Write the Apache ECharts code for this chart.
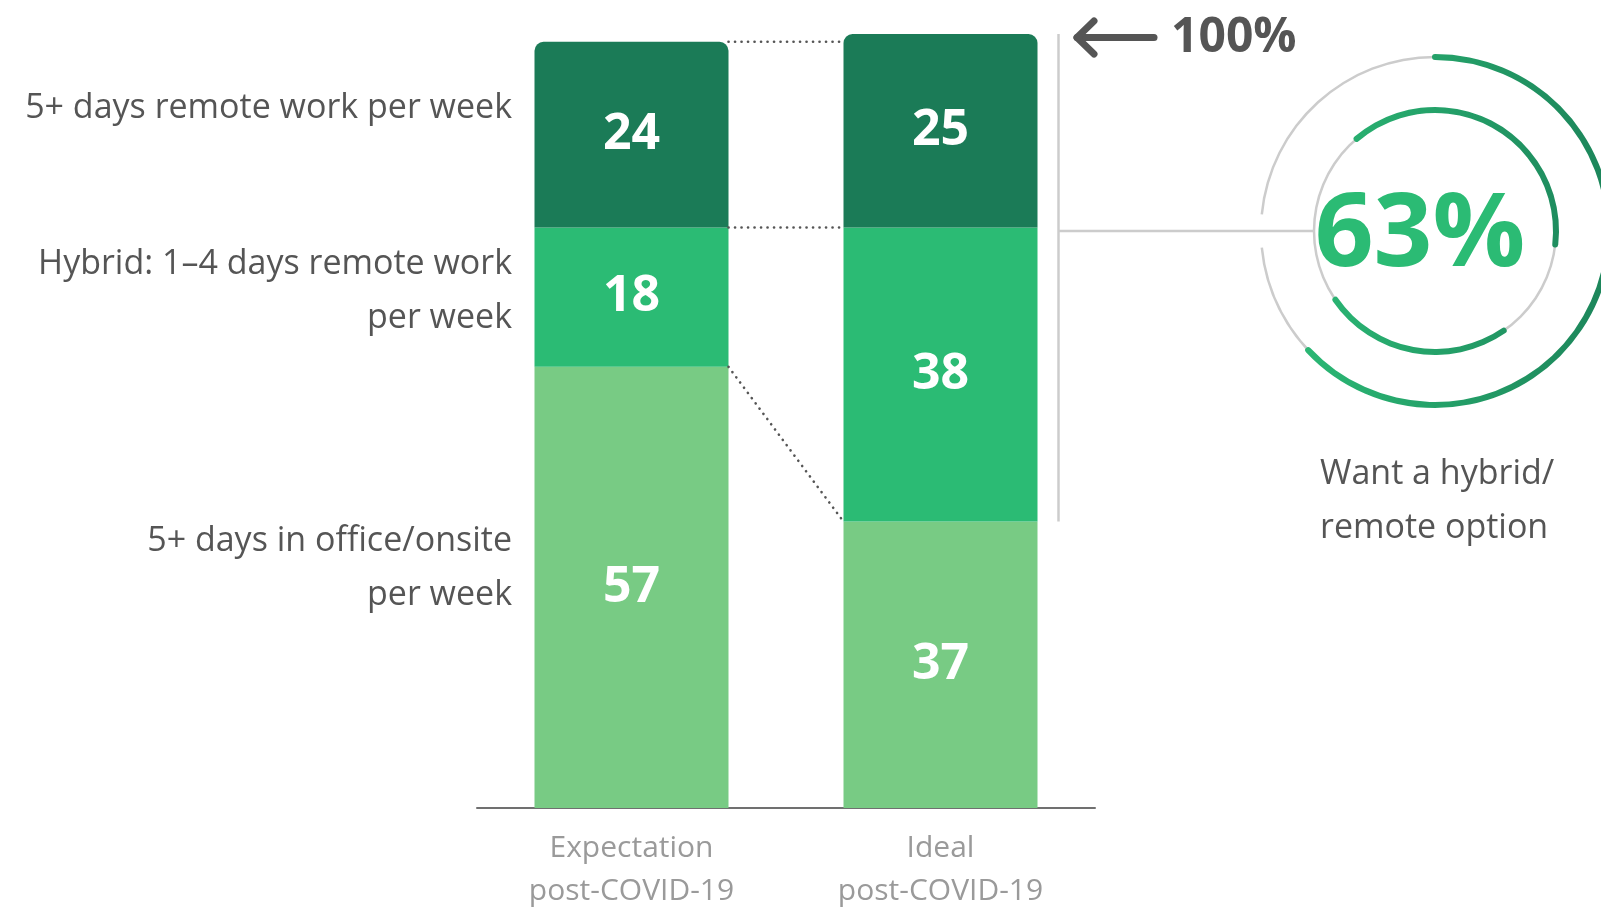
<!DOCTYPE html>
<html>
<head>
<meta charset="utf-8">
<title>Remote work expectations vs. ideal</title>
<script src="https://cdn.jsdelivr.net/npm/echarts@6/dist/echarts.min.js"></script>
<style>
  html, body { margin: 0; padding: 0; background: #ffffff; }
  #chart { width: 1601px; height: 908px; }
</style>
</head>
<body>
<div id="chart"></div>
<script>
// ---- data ----
const categories = ['Expectation\npost-COVID-19', 'Ideal\npost-COVID-19'];
const segmentNames = [
  '5+ days in office/onsite\nper week',
  'Hybrid: 1–4 days remote work\nper week',
  '5+ days remote work per week'
];
const officeShare = [57, 37];   // 5+ days in office/onsite
const hybridShare = [18, 38];   // 1–4 days remote
const remoteShare = [24, 25];   // 5+ days remote
const scaleMax = 100;
const totalLabel = '100%';
const ringCaption = 'Want a hybrid/\nremote option';

// ---- layout / style ----
const FONT = '"Open Sans", "Noto Sans", sans-serif';
const GRID_LEFT = 477, GRID_W = 618, GRID_TOP = 34, GRID_BOTTOM = 100;
const BAR_W = 194;
const CAT_W = GRID_W / categories.length;
const BAR_HALF = (BAR_W / 2) / CAT_W;          // half bar width in category units
const BRACKET_GAP = 21 / CAT_W;                 // gap between ideal bar and bracket
const segColors = ['#78cb84', '#2bbb74', '#1b7b57'];
const RING_CX = 1435, RING_CY = 231;
const OUTER_R = 174, INNER_R = 121;
const ARC_W = 6, RING_W = 2.5;
const arcGradient = {
  type: 'linear', x: 1255, y: 0, x2: 1615, y2: 0, global: true,
  colorStops: [{ offset: 0, color: '#2dbf78' }, { offset: 1, color: '#1c845a' }]
};

const segments = [officeShare, hybridShare, remoteShare];
const idealFlexible = hybridShare[1] + remoteShare[1];
const expTotal = officeShare[0] + hybridShare[0] + remoteShare[0];
const idealTotal = officeShare[1] + hybridShare[1] + remoteShare[1];

// connectors between the two stacks (value x axis: category i centred at i + 0.5)
const xRightOfFirst = 0.5 + BAR_HALF;
const xLeftOfSecond = 1.5 - BAR_HALF;
const connectors = [
  [[xRightOfFirst, expTotal], [xLeftOfSecond, expTotal]],
  [[xRightOfFirst, officeShare[0] + hybridShare[0]], [xLeftOfSecond, officeShare[1] + hybridShare[1]]],
  [[xRightOfFirst, officeShare[0]], [xLeftOfSecond, officeShare[1]]]
];
const xBracket = 1.5 + BAR_HALF + BRACKET_GAP;
const bracket = [[xBracket, idealTotal], [xBracket, officeShare[1]]];

const chart = echarts.init(document.getElementById('chart'), null, { renderer: 'canvas' });

function gaugeBase(radius) {
  return {
    type: 'gauge', center: [RING_CX, RING_CY], radius: radius,
    min: 0, max: 100, clockwise: true, silent: true, animation: false,
    pointer: { show: false }, anchor: { show: false },
    axisTick: { show: false }, splitLine: { show: false }, axisLabel: { show: false },
    title: { show: false }, detail: { show: false }
  };
}
function greyRing(r, colorStops) {
  return Object.assign(gaugeBase(r + RING_W / 2), {
    startAngle: 90, endAngle: -270,
    axisLine: { show: true, roundCap: false, lineStyle: { width: RING_W, color: colorStops } },
    progress: { show: false },
    data: [{ value: 0 }]
  });
}
function greenArc(r, startAngle, value, detail) {
  return Object.assign(gaugeBase(r + ARC_W / 2), {
    startAngle: startAngle, endAngle: startAngle - 360,
    axisLine: { show: false },
    progress: { show: true, width: ARC_W, roundCap: true, itemStyle: { color: arcGradient } },
    detail: detail || { show: false },
    data: [{ value: value }]
  });
}

const barSeries = segments.map((vals, i) => ({
  type: 'bar', name: segmentNames[i], stack: 'share', data: vals,
  barWidth: BAR_W, xAxisIndex: 0, yAxisIndex: 0,
  itemStyle: { color: segColors[i], borderRadius: i === segments.length - 1 ? [9, 9, 0, 0] : 0 },
  label: {
    show: true, position: 'inside', color: '#ffffff',
    fontFamily: FONT, fontSize: 50, fontWeight: 'bold'
  },
  emphasis: { disabled: true }, z: 3
}));

const connectorSeries = connectors.map(pts => ({
  type: 'line', xAxisIndex: 1, yAxisIndex: 0, data: pts, symbol: 'none', silent: true,
  lineStyle: { color: '#555555', width: 2.6, type: [0.1, 6.4], cap: 'round' }, z: 4
}));

const bracketSeries = {
  type: 'line', xAxisIndex: 1, yAxisIndex: 0, data: bracket, symbol: 'none', silent: true,
  lineStyle: { color: '#cccccc', width: 2.5 }, z: 2
};

const LABEL_X = 512;
function sideText(text, x, top, align) {
  return {
    type: 'text', x: x, y: top,
    style: { text: text, align: align, verticalAlign: 'top', fontFamily: FONT, fontSize: 34, fill: '#555555', lineHeight: 54 }
  };
}
const ringGap = 5.5 / 360;

chart.setOption({
  backgroundColor: '#ffffff',
  animation: false,
  grid: {
    left: GRID_LEFT, width: GRID_W, top: GRID_TOP, bottom: GRID_BOTTOM,
    outerBoundsMode: 'none', containLabel: false
  },
  xAxis: [
    {
      type: 'category', data: categories,
      axisLine: { lineStyle: { color: '#707070', width: 2 } },
      axisTick: { show: false },
      axisLabel: { color: '#9a9a9a', fontFamily: FONT, fontSize: 30, lineHeight: 43, margin: 19 }
    },
    { type: 'value', min: 0, max: categories.length, show: false }
  ],
  yAxis: { type: 'value', min: 0, max: scaleMax, show: false },
  series: [
    ...barSeries,
    ...connectorSeries,
    bracketSeries,
    greyRing(OUTER_R, [[0.75 - ringGap, '#cccccc'], [0.75 + ringGap, 'rgba(255,255,255,0)'], [1, '#cccccc']]),
    greyRing(INNER_R, [[1, '#cccccc']]),
    greenArc(OUTER_R, 90, idealFlexible, {
      show: true, offsetCenter: [-15, 6], formatter: '{value}%',
      color: '#2bbb74', fontFamily: FONT, fontSize: 103, fontWeight: 'bold'
    }),
    greenArc(INNER_R, 130.4, hybridShare[1]),
    greenArc(INNER_R, -55.4, remoteShare[1])
  ],
  graphic: [
    // segment legend at the left of the stacks
    sideText(segmentNames[2], LABEL_X, 108 - 27, 'right'),
    sideText(segmentNames[1], LABEL_X, 291 - 54, 'right'),
    sideText(segmentNames[0], LABEL_X, 568 - 54, 'right'),
    // arrow pointing at the top of the scale
    { type: 'line', shape: { x1: 1077, y1: 37.5, x2: 1154, y2: 37.5 }, style: { stroke: '#555555', lineWidth: 7, lineCap: 'round' } },
    { type: 'polyline', shape: { points: [[1094, 21], [1077, 37.5], [1094, 54]] }, style: { stroke: '#555555', lineWidth: 7, lineCap: 'round', lineJoin: 'round', fill: null } },
    { type: 'text', x: 1171, y: 38, style: { text: totalLabel, fontFamily: FONT, fontSize: 48, fontWeight: 'bold', fill: '#555555', verticalAlign: 'middle' } },
    // link from the bracket to the ring
    { type: 'line', shape: { x1: 1059, y1: RING_CY, x2: RING_CX - INNER_R, y2: RING_CY }, style: { stroke: '#cccccc', lineWidth: 2.5 } },
    // ring caption
    sideText(ringCaption, 1320, 501 - 54, 'left')
  ]
});
</script>
</body>
</html>
